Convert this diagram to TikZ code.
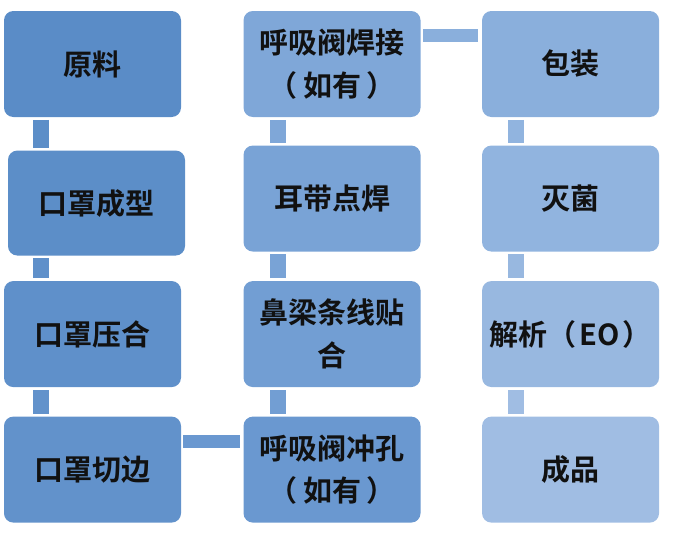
\documentclass[tikz,border=0pt]{standalone}
\usepackage{fontspec}
\usepackage{tikz}
\usetikzlibrary{positioning}
\newfontfamily\cjk[BoldFont={Noto Sans CJK SC Bold}]{Noto Sans CJK SC}

\definecolor{stepA}{HTML}{5A8CC7}
\definecolor{stepB}{HTML}{5C8EC8}
\definecolor{stepC}{HTML}{5F90CA}
\definecolor{stepD}{HTML}{6292CB}
\definecolor{stepE}{HTML}{6A98D0}
\definecolor{stepF}{HTML}{729ED3}
\definecolor{stepG}{HTML}{79A3D6}
\definecolor{stepH}{HTML}{7FA7D8}
\definecolor{stepI}{HTML}{8AAFDC}
\definecolor{stepJ}{HTML}{91B4DF}
\definecolor{stepK}{HTML}{98B8E0}
\definecolor{stepL}{HTML}{A0BDE3}
\definecolor{textdark}{HTML}{111111}

\begin{document}
\begin{tikzpicture}[
                    x=0.75pt, y=-0.75pt,
                    stage/.style={rectangle, rounded corners=7pt, minimum width=132.75pt, minimum height=79.5pt, inner sep=2pt,
                                  text=textdark, font=\cjk\bfseries\fontsize{21.75}{32}\selectfont},
                    vlink/.style={line width=12pt, shorten <=2pt, shorten >=2pt},
                    hlink/.style={line width=9.75pt, shorten <=1.5pt, shorten >=2.5pt},
                    node distance=21.75pt and 46.5pt,
                    align=center,
                ]
                \useasboundingbox (0,0) rectangle (700,533);
                \coordinate (barone) at (41,0);
                \coordinate (bartwo) at (278,0);
                \coordinate (barthree) at (516,0);
                \coordinate (rowtop) at (0,35.5);
                \coordinate (rowlow) at (0,441.5);

                % first column
                \node[stage, fill=stepA] (yuanliao) at (92.5,64) {原料};
                \node[stage, fill=stepB] (chengxing) [below=24.75pt of yuanliao, xshift=3pt, minimum height=78.75pt] {口罩成型};
                \node[stage, fill=stepC] (yahe) [below=18.75pt of chengxing, xshift=-3pt] {口罩压合};
                \node[stage, fill=stepD] (qiebian) [below=of yahe] {口罩切边};

                % second column, bottom up
                \node[stage, fill=stepE] (chongkong) [right=of qiebian] {呼吸阀冲孔\\（\hspace{4pt}如有\hspace{4pt}）};
                \node[stage, fill=stepF] (biliang) [above=of chongkong] {鼻梁条线贴\\合};
                \node[stage, fill=stepG] (erdai) [above=of biliang] {耳带点焊};
                \node[stage, fill=stepH] (hanjie) [above=21pt of erdai] {呼吸阀焊接\\（\hspace{4pt}如有\hspace{4pt}）};

                % third column
                \node[stage, fill=stepI] (baozhuang) [right=45.75pt of hanjie] {包装};
                \node[stage, fill=stepJ] (miejun) [below=21pt of baozhuang] {灭菌};
                \node[stage, fill=stepK] (jiexi) [below=of miejun] {解析（\hspace{2pt}EO\hspace{2pt}）};
                \node[stage, fill=stepL] (chengpin) [below=of jiexi] {成品};

                \draw[vlink, stepB] (yuanliao.south -| barone) -- (chengxing.north -| barone);
                \draw[vlink, stepC] (chengxing.south -| barone) -- (yahe.north -| barone);
                \draw[vlink, stepD] (yahe.south -| barone) -- (qiebian.north -| barone);
                \draw[hlink, stepE] (qiebian.east |- rowlow) -- (chongkong.west |- rowlow);
                \draw[vlink, stepF] (chongkong.north -| bartwo) -- (biliang.south -| bartwo);
                \draw[vlink, stepG] (biliang.north -| bartwo) -- (erdai.south -| bartwo);
                \draw[vlink, stepH] (erdai.north -| bartwo) -- (hanjie.south -| bartwo);
                \draw[hlink, stepI] (hanjie.east |- rowtop) -- (baozhuang.west |- rowtop);
                \draw[vlink, stepJ] (baozhuang.south -| barthree) -- (miejun.north -| barthree);
                \draw[vlink, stepK] (miejun.south -| barthree) -- (jiexi.north -| barthree);
                \draw[vlink, stepL] (jiexi.south -| barthree) -- (chengpin.north -| barthree);
            \end{tikzpicture}
\end{document}
